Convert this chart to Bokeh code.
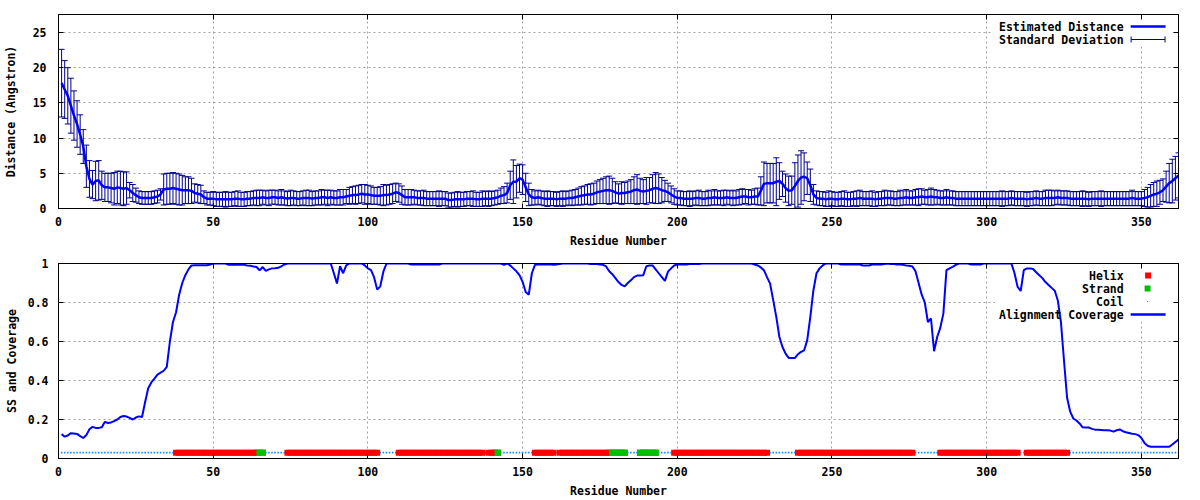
from bokeh.plotting import figure
from bokeh.models import LinearAxis, FixedTicker, Range1d, Label, BoxAnnotation
from bokeh.layouts import column
from bokeh.embed import file_html
from bokeh.resources import INLINE

# ---------------- data ----------------
residues = list(range(1, 363))

distance_mean = [
    17.8, 16.9, 16.0, 14.6, 13.2, 12.0, 10.5, 8.8, 6.0, 4.2,
    3.4, 3.9, 4.0, 3.3, 3.0, 3.0, 2.9, 2.8, 3.0, 2.9,
    2.8, 2.9, 2.6, 2.2, 1.9, 1.6, 1.5, 1.5, 1.5, 1.5,
    1.6, 1.7, 2.0, 2.7, 2.8, 2.8, 2.9, 2.8, 2.7, 2.6,
    2.6, 2.6, 2.5, 2.2, 2.1, 2.0, 1.6, 1.4, 1.4, 1.4,
    1.3, 1.3, 1.3, 1.3, 1.3, 1.3, 1.4, 1.4, 1.3, 1.3,
    1.4, 1.4, 1.5, 1.5, 1.5, 1.6, 1.5, 1.5, 1.6, 1.6,
    1.5, 1.6, 1.5, 1.4, 1.5, 1.5, 1.4, 1.4, 1.5, 1.5,
    1.5, 1.4, 1.5, 1.5, 1.6, 1.6, 1.5, 1.6, 1.5, 1.5,
    1.6, 1.6, 1.7, 1.8, 1.9, 1.9, 2.0, 2.1, 2.0, 2.0,
    1.9, 1.8, 1.8, 1.8, 1.9, 1.9, 2.0, 2.1, 2.3, 2.2,
    1.9, 1.6, 1.6, 1.6, 1.6, 1.5, 1.5, 1.5, 1.4, 1.4,
    1.4, 1.4, 1.4, 1.4, 1.4, 1.2, 1.2, 1.3, 1.3, 1.3,
    1.3, 1.4, 1.4, 1.4, 1.3, 1.3, 1.4, 1.4, 1.4, 1.4,
    1.5, 1.6, 1.8, 1.9, 2.2, 3.3, 3.8, 3.8, 4.3, 4.1,
    3.0, 2.0, 1.6, 1.5, 1.6, 1.5, 1.4, 1.4, 1.4, 1.4,
    1.3, 1.4, 1.4, 1.4, 1.5, 1.5, 1.6, 1.7, 1.8, 1.9,
    2.0, 2.0, 2.1, 2.3, 2.4, 2.5, 2.6, 2.6, 2.5, 2.3,
    2.1, 2.2, 2.2, 2.3, 2.4, 2.6, 2.7, 2.5, 2.4, 2.5,
    2.6, 2.8, 2.9, 2.8, 2.6, 2.5, 2.3, 2.0, 1.7, 1.5,
    1.5, 1.4, 1.4, 1.4, 1.4, 1.5, 1.5, 1.4, 1.4, 1.5,
    1.5, 1.6, 1.5, 1.5, 1.5, 1.6, 1.5, 1.5, 1.5, 1.6,
    1.7, 1.7, 1.6, 1.6, 1.7, 1.7, 2.5, 3.5, 3.6, 3.6,
    3.6, 3.8, 3.9, 3.5, 2.9, 2.5, 2.6, 3.2, 3.9, 4.4,
    4.5, 4.3, 3.3, 2.0, 1.5, 1.4, 1.4, 1.3, 1.4, 1.4,
    1.3, 1.3, 1.4, 1.4, 1.3, 1.3, 1.4, 1.4, 1.5, 1.4,
    1.4, 1.4, 1.4, 1.3, 1.4, 1.4, 1.5, 1.5, 1.5, 1.4,
    1.4, 1.5, 1.5, 1.6, 1.5, 1.5, 1.6, 1.6, 1.7, 1.6,
    1.6, 1.7, 1.6, 1.6, 1.5, 1.5, 1.6, 1.5, 1.5, 1.4,
    1.4, 1.4, 1.4, 1.4, 1.4, 1.4, 1.4, 1.4, 1.4, 1.4,
    1.4, 1.4, 1.4, 1.4, 1.4, 1.4, 1.4, 1.5, 1.4, 1.4,
    1.4, 1.4, 1.3, 1.4, 1.4, 1.5, 1.4, 1.4, 1.5, 1.5,
    1.5, 1.5, 1.6, 1.5, 1.5, 1.5, 1.4, 1.4, 1.4, 1.4,
    1.4, 1.4, 1.3, 1.4, 1.4, 1.4, 1.4, 1.4, 1.4, 1.4,
    1.4, 1.4, 1.4, 1.4, 1.4, 1.4, 1.5, 1.4, 1.4, 1.4,
    1.5, 1.6, 1.8, 2.0, 2.1, 2.3, 2.6, 3.1, 3.6, 3.9, 4.3, 4.7,
]

distance_std = [
    4.8, 4.1, 4.0, 3.9, 3.5, 3.3, 2.8, 2.4, 3.0, 2.6,
    2.0, 2.8, 2.8, 2.0, 2.0, 2.0, 2.1, 2.3, 2.3, 2.4,
    2.4, 2.3, 1.1, 1.2, 1.0, 0.9, 0.9, 0.9, 0.9, 0.9,
    0.9, 0.9, 0.8, 2.2, 2.2, 2.2, 2.2, 2.2, 2.2, 2.1,
    1.9, 1.9, 1.8, 1.3, 1.3, 1.3, 0.9, 0.9, 0.9, 1.0,
    1.0, 1.0, 1.0, 1.1, 1.0, 1.0, 1.0, 1.1, 1.0, 1.0,
    1.0, 1.0, 1.0, 1.1, 1.1, 1.0, 1.0, 1.1, 1.0, 1.0,
    1.0, 1.1, 1.0, 1.0, 1.1, 1.0, 1.0, 1.0, 1.0, 1.1,
    1.1, 1.0, 1.0, 1.0, 1.1, 1.0, 1.1, 1.0, 1.0, 1.0,
    1.1, 1.1, 1.0, 1.2, 1.2, 1.3, 1.3, 1.3, 1.4, 1.3,
    1.3, 1.2, 1.2, 1.3, 1.5, 1.4, 1.4, 1.4, 1.3, 1.3,
    1.3, 1.1, 1.1, 1.1, 1.0, 1.0, 1.0, 1.1, 1.0, 1.0,
    1.0, 1.0, 1.1, 1.0, 1.0, 1.0, 1.0, 1.0, 1.1, 1.0,
    1.0, 1.0, 1.0, 1.1, 1.0, 1.0, 1.1, 1.0, 1.1, 1.0,
    1.0, 1.0, 1.1, 1.2, 1.4, 2.0, 3.1, 2.3, 2.0, 2.1,
    2.0, 1.6, 1.1, 1.0, 1.0, 1.0, 1.0, 1.1, 1.0, 1.0,
    1.0, 1.0, 1.1, 1.0, 1.0, 1.1, 1.1, 1.2, 1.3, 1.3,
    1.4, 1.5, 1.5, 1.6, 1.7, 1.8, 1.9, 2.0, 1.8, 1.5,
    1.4, 1.6, 1.5, 1.6, 1.7, 1.9, 2.1, 1.8, 1.7, 1.9,
    1.8, 2.0, 2.2, 2.1, 1.8, 1.5, 1.3, 1.2, 1.1, 1.0,
    1.0, 1.0, 1.0, 1.1, 1.0, 1.0, 1.1, 1.0, 1.0, 1.1,
    1.0, 1.1, 1.0, 1.0, 1.1, 1.0, 1.0, 1.1, 1.0, 1.1,
    1.1, 1.0, 1.1, 1.0, 1.1, 1.2, 2.0, 3.1, 2.8, 2.8,
    2.8, 3.4, 2.6, 1.8, 2.0, 2.1, 2.0, 3.3, 3.7, 3.8,
    3.4, 2.3, 2.3, 1.4, 1.0, 1.0, 1.0, 1.0, 1.1, 1.0,
    1.0, 1.0, 1.0, 1.1, 1.0, 1.0, 1.0, 1.1, 1.1, 1.0,
    1.0, 1.0, 1.1, 1.0, 1.0, 1.0, 1.1, 1.0, 1.0, 1.0,
    1.0, 1.1, 1.0, 1.1, 1.0, 1.0, 1.1, 1.2, 1.1, 1.0,
    1.1, 1.2, 1.1, 1.0, 1.0, 1.0, 1.1, 1.0, 1.0, 1.0,
    1.0, 1.0, 1.0, 1.0, 1.0, 1.0, 1.0, 1.0, 1.0, 1.0,
    1.0, 1.0, 1.0, 1.0, 1.1, 1.0, 1.0, 1.0, 1.0, 1.0,
    1.0, 1.0, 1.0, 1.0, 1.0, 1.0, 1.0, 1.0, 1.1, 1.1,
    1.1, 1.0, 1.0, 1.0, 1.0, 1.0, 1.0, 1.0, 1.0, 1.0,
    1.1, 1.0, 1.0, 1.0, 1.0, 1.0, 1.1, 1.0, 1.0, 1.0,
    1.0, 1.0, 1.0, 1.0, 1.0, 1.0, 1.1, 1.0, 1.0, 1.0,
    1.2, 1.4, 1.6, 1.7, 1.8, 1.7, 1.6, 2.2, 2.8, 3.1, 3.1, 3.2,
]

coverage = [
    0.125, 0.112, 0.118, 0.13, 0.128, 0.126, 0.115, 0.105, 0.12, 0.15,
    0.162, 0.157, 0.157, 0.16, 0.188, 0.182, 0.185, 0.192, 0.2, 0.213,
    0.218, 0.215, 0.208, 0.2, 0.21, 0.216, 0.213, 0.29, 0.36, 0.39,
    0.41, 0.43, 0.44, 0.45, 0.47, 0.6, 0.7, 0.75, 0.84, 0.9,
    0.94, 0.97, 0.99, 0.991, 0.991, 0.991, 0.991, 0.991, 0.995, 1.0,
    1.0, 1.0, 1.0, 1.0, 0.993, 0.993, 0.993, 0.993, 0.993, 0.993,
    0.99, 0.988, 0.985, 0.982, 0.965, 0.982, 0.962, 0.97, 0.975, 0.976,
    0.978, 0.985, 0.995, 1.0, 1.0, 1.0, 1.0, 1.0, 1.0, 1.0,
    1.0, 1.0, 1.0, 1.0, 1.0, 1.0, 1.0, 1.0, 0.95, 0.897,
    0.986, 0.95, 0.99, 1.0, 1.0, 1.0, 1.0, 1.0, 0.99, 0.975,
    0.966, 0.93, 0.866, 0.883, 0.958, 1.0, 1.0, 1.0, 1.0, 1.0,
    1.0, 1.0, 1.0, 0.995, 0.995, 0.995, 0.995, 0.995, 0.995, 0.995,
    0.995, 0.995, 0.995, 1.0, 1.0, 1.0, 1.0, 1.0, 1.0, 1.0,
    1.0, 1.0, 1.0, 1.0, 1.0, 1.0, 1.0, 1.0, 1.0, 1.0,
    1.0, 1.0, 1.0, 0.993, 1.0, 0.99, 0.975, 0.96, 0.94, 0.906,
    0.854, 0.84, 0.95, 0.993, 0.995, 0.995, 0.995, 0.995, 0.995, 0.993,
    0.995, 0.998, 1.0, 1.0, 1.0, 1.0, 1.0, 1.0, 1.0, 1.0,
    1.0, 0.998, 0.998, 0.997, 0.995, 0.993, 0.985, 0.96, 0.945, 0.925,
    0.905, 0.89, 0.883, 0.9, 0.914, 0.93, 0.938, 0.938, 0.94, 0.986,
    0.99, 0.99, 0.97, 0.95, 0.93, 0.911, 0.958, 0.975, 0.99, 0.995,
    0.995, 0.995, 0.995, 0.997, 0.997, 0.997, 0.997, 1.0, 1.0, 1.0,
    1.0, 1.0, 1.0, 1.0, 1.0, 1.0, 1.0, 1.0, 1.0, 1.0,
    1.0, 1.0, 1.0, 1.0, 0.995, 0.99, 0.98, 0.966, 0.93, 0.897,
    0.812, 0.726, 0.623, 0.572, 0.538, 0.516, 0.515, 0.515, 0.535, 0.547,
    0.555, 0.607, 0.726, 0.863, 0.95, 0.975, 0.99, 1.0, 1.0, 1.0,
    1.0, 1.0, 0.995, 0.995, 0.995, 0.995, 0.995, 0.995, 0.995, 0.99,
    0.99, 0.99, 0.995, 0.995, 0.995, 0.995, 0.997, 1.0, 0.998, 0.997,
    0.995, 0.995, 0.993, 0.99, 0.988, 0.985, 0.96, 0.9, 0.84, 0.8,
    0.7, 0.718, 0.55, 0.623, 0.67, 0.743, 0.966, 0.975, 0.983, 0.993,
    1.0, 1.0, 1.0, 1.0, 0.995, 0.995, 0.995, 0.995, 1.0, 1.0,
    1.0, 1.0, 1.0, 1.0, 1.0, 1.0, 1.0, 1.0, 0.95, 0.88,
    0.859, 0.966, 0.975, 0.975, 0.972, 0.955, 0.94, 0.925, 0.905, 0.89,
    0.875, 0.86, 0.81, 0.7, 0.5, 0.31, 0.24, 0.205, 0.195, 0.18,
    0.16, 0.159, 0.159, 0.152, 0.148, 0.147, 0.146, 0.145, 0.145, 0.143,
    0.138, 0.145, 0.149, 0.14, 0.135, 0.131, 0.127, 0.125, 0.12, 0.105,
    0.08, 0.065, 0.06, 0.06, 0.06, 0.06, 0.06, 0.06, 0.06, 0.072, 0.085, 0.097,
]

# secondary structure: (first residue, last residue)
helix_segments = [(38, 63), (74, 103), (110, 137), (139, 140), (154, 160),
                  (162, 177), (199, 229), (239, 276), (285, 310), (313, 326)]
strand_segments = [(64, 66), (141, 142), (178, 183), (188, 193)]
ss_level = 0.03

x_ticks = [0, 50, 100, 150, 200, 250, 300, 350]
dist_ticks = [0, 5, 10, 15, 20, 25]
cov_ticks = [0, 0.2, 0.4, 0.6, 0.8, 1]
cov_tick_labels = ["0", "0.2", "0.4", "0.6", "0.8", "1"]

X_END = 362
DIST_END = 27.55
COV_END = 1.0

# ---------------- styling ----------------
FONT = "DejaVu Sans Mono"
FS = "11.5px"
BLUE = "#0000ff"
NAVY = "#00008b"
RED = "#ff0000"
GREEN = "#00c000"
COIL = "#1e8cff"
GRID = "#a0a0a0"

W = 1200
H1, H2 = 250, 250
B1 = dict(left=55, right=22, top=14, bottom=42)
B2 = dict(left=55, right=22, top=13, bottom=42)


def style_axis(ax, ticker, show_labels=True):
    ax.ticker = FixedTicker(ticks=ticker)
    ax.major_tick_in = 5
    ax.major_tick_out = 0
    ax.minor_tick_line_color = None
    ax.major_tick_line_color = "black"
    ax.axis_line_color = "black"
    ax.major_label_text_font = FONT
    ax.major_label_text_font_style = "bold"
    ax.axis_label_text_font = FONT
    ax.axis_label_text_font_style = "bold"
    ax.axis_label_text_color = "black"
    ax.axis_label_text_font_size = FS
    if show_labels:
        ax.major_label_text_font_size = FS
        ax.major_label_text_color = "black"
    else:
        # mirror axis: ticks only, no tick labels drawn
        ax.major_label_text_font_size = "1px"
        ax.major_label_text_color = None
        ax.major_label_standoff = 0
        ax.axis_label_standoff = 0


def make_fig(h, b, y_end, y_ticks, y_label):
    p = figure(width=W, height=h, x_range=Range1d(0, X_END), y_range=Range1d(0, y_end),
               output_backend="svg", toolbar_location=None, tools="",
               min_border_left=b["left"], min_border_right=b["right"],
               min_border_top=b["top"], min_border_bottom=b["bottom"])
    p.outline_line_color = "black"
    p.outline_line_alpha = 1.0
    p.outline_line_width = 1
    p.background_fill_color = "white"
    p.border_fill_color = "white"

    style_axis(p.xaxis[0], x_ticks)
    style_axis(p.yaxis[0], y_ticks)
    p.xaxis[0].axis_label = "Residue Number"
    p.yaxis[0].axis_label = y_label
    p.xaxis[0].major_label_standoff = 8
    p.xaxis[0].axis_label_standoff = 5

    right = LinearAxis()
    style_axis(right, y_ticks, show_labels=False)
    p.add_layout(right, "right")
    top = LinearAxis()
    style_axis(top, x_ticks, show_labels=False)
    p.add_layout(top, "above")

    p.xgrid.ticker = FixedTicker(ticks=x_ticks)
    p.ygrid.ticker = FixedTicker(ticks=y_ticks)
    for g in (p.xgrid, p.ygrid):
        g.grid_line_color = GRID
        g.grid_line_dash = "2 3"
        g.grid_line_width = 1
    return p


class Key:
    """Gnuplot-like key placed relative to the frame's top-right corner."""

    def __init__(self, p, frame_w, frame_h, x_end, y_end):
        self.p = p
        self.dx = x_end / frame_w
        self.dy = y_end / frame_h
        self.x_end = x_end
        self.y_end = y_end

    def X(self, px_from_right):
        return self.x_end - px_from_right * self.dx

    def Y(self, px_from_top):
        return self.y_end - px_from_top * self.dy

    def background(self, left_px, right_px, top_px, bottom_px):
        self.p.add_layout(BoxAnnotation(left=self.X(left_px), right=self.X(right_px),
                                        top=self.Y(top_px), bottom=self.Y(bottom_px),
                                        fill_color="white", fill_alpha=1.0, line_color=None,
                                        level="underlay"))

    def box(self, left_px, right_px, top_px, bottom_px, color):
        self.p.add_layout(BoxAnnotation(left=self.X(left_px), right=self.X(right_px),
                                        top=self.Y(top_px), bottom=self.Y(bottom_px),
                                        fill_color=color, fill_alpha=1.0, line_color=None))

    def text(self, row_px, txt):
        self.p.add_layout(Label(x=self.X(55), y=self.Y(row_px), text=txt,
                                text_align="right", text_baseline="middle",
                                text_font=FONT, text_font_style="bold",
                                text_font_size=FS, text_color="black"))


# ---------------- top panel ----------------
p1 = make_fig(H1, B1, DIST_END, dist_ticks, "Distance (Angstron)")
p1.yaxis[0].major_label_standoff = 12
p1.yaxis[0].axis_label_standoff = 12

lower = [m - s for m, s in zip(distance_mean, distance_std)]
upper = [m + s for m, s in zip(distance_mean, distance_std)]
p1.segment(x0=residues, y0=lower, x1=residues, y1=upper, line_color=NAVY, line_width=1)
p1.scatter(x=residues, y=upper, marker="dash", size=6, line_color=NAVY, line_width=1)
p1.scatter(x=residues, y=lower, marker="dash", size=6, line_color=NAVY, line_width=1)
p1.line(x=residues, y=distance_mean, line_color=BLUE, line_width=2.5)

k1 = Key(p1, W - B1["left"] - B1["right"], H1 - B1["top"] - B1["bottom"], X_END, DIST_END)
k1.background(186, 6, 4, 32)
k1.text(12, "Estimated Distance")
k1.box(48, 13, 10.75, 13.25, BLUE)
k1.text(25, "Standard Deviation")
k1.box(47.5, 13.5, 24.5, 25.5, NAVY)
k1.box(48, 47, 22, 28, NAVY)
k1.box(14, 13, 22, 28, NAVY)

# ---------------- bottom panel ----------------
p2 = make_fig(H2, B2, COV_END, cov_ticks, "SS and Coverage")
p2.yaxis[0].major_label_overrides = {t: lab for t, lab in zip(cov_ticks, cov_tick_labels)}
p2.yaxis[0].major_label_standoff = 10
p2.yaxis[0].axis_label_standoff = 6

helix_res = [r for a, b in helix_segments for r in range(a, b + 1)]
strand_res = [r for a, b in strand_segments for r in range(a, b + 1)]
ss_res = set(helix_res) | set(strand_res)
coil_res = [r for r in residues if r not in ss_res]

p2.scatter(x=coil_res, y=[ss_level] * len(coil_res), marker="square", size=1.6,
           fill_color=COIL, line_color=None)
p2.scatter(x=strand_res, y=[ss_level] * len(strand_res), marker="square", size=6.5,
           fill_color=GREEN, line_color=None)
p2.scatter(x=helix_res, y=[ss_level] * len(helix_res), marker="square", size=6,
           fill_color=RED, line_color=None)
p2.line(x=residues, y=coverage, line_color=BLUE, line_width=2)

k2 = Key(p2, W - B2["left"] - B2["right"], H2 - B2["top"] - B2["bottom"], X_END, COV_END)
k2.background(184, 6, 4, 58)
k2.text(12, "Helix")
k2.box(33.5, 27.5, 9, 15, RED)
k2.text(25, "Strand")
k2.box(34, 28, 22, 28, GREEN)
k2.text(38, "Coil")
k2.box(31.5, 30.5, 37.5, 38.5, COIL)
k2.text(51, "Alignment Coverage")
k2.box(48, 13, 49.75, 52.25, BLUE)

layout = column(p1, p2)
open("out.html", "w").write(file_html(layout, INLINE))
